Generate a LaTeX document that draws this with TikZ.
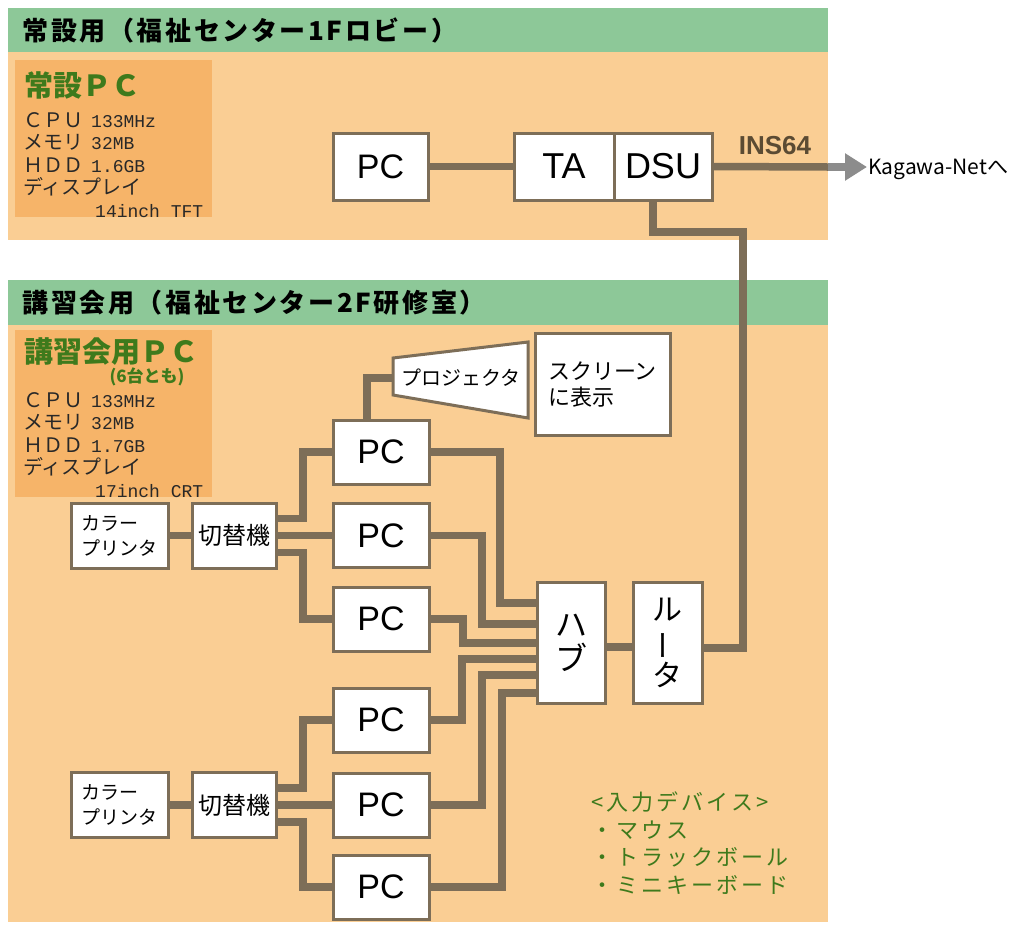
\documentclass[tikz,border=0pt]{standalone}
\usepackage{fontspec}
\setmainfont{Liberation Sans}
\newfontfamily\cjk{Noto Sans CJK JP}
\newfontfamily\lmono{Liberation Mono}
\usetikzlibrary{arrows.meta,calc}
\definecolor{hdr}{RGB}{141,200,152}
\definecolor{bgo}{RGB}{250,206,148}
\definecolor{spc}{RGB}{246,180,105}
\definecolor{wirec}{RGB}{125,110,88}
\definecolor{ttlg}{RGB}{62,122,28}
\definecolor{arrg}{RGB}{140,140,140}
\definecolor{txtd}{RGB}{40,40,40}
\definecolor{insc}{RGB}{91,75,51}
\newcommand{\lat}[1]{{\lmono\fontsize{18}{22.5}\selectfont #1}}
\newcommand{\gap}{\hspace{8pt}}
\begin{document}
\begin{tikzpicture}[x=1pt,y=-1pt,
  box/.style={draw=wirec,line width=3pt,fill=white,inner sep=0pt,outer sep=0pt,text=black},
  wire/.style={draw=wirec,line width=7.5pt},
  latf/.style={font=\fontsize{#1}{#1}\selectfont},
  jpf/.style={font=\cjk\fontsize{#1}{#1}\selectfont},
  hdrtext/.style={anchor=west,text=black,font=\cjk\bfseries\fontsize{26}{26}\selectfont\addfontfeatures{LetterSpace=10}},
  ttl/.style={anchor=west,text=ttlg,font=\cjk\bfseries\fontsize{29}{29}\selectfont},
  spec/.style={anchor=north west,text=txtd,align=left,inner sep=0pt,font=\cjk\fontsize{20}{22.5}\selectfont},
  pcbox/.style={box,minimum width=96,minimum height=64,latf=34},
]
\useasboundingbox (0,0) rectangle (1034,927);
\fill[white] (0,0) rectangle (1034,927);
% ---------------- top section
\fill[hdr] (8,8) rectangle (828,52);
\fill[bgo] (8,52) rectangle (828,240);
\fill[spc] (15,60) rectangle (212,217);
\node[hdrtext] (h1) at (19,30) {常設用（福祉センター1Fロビー）};
\node[ttl] (t1) at (21,85) {常設ＰＣ};
\node[spec] (s1) at (23,112) {ＣＰＵ\gap\lat{133MHz}\\メモリ\gap\lat{32MB}\\ＨＤＤ\gap\lat{1.6GB}\\ディスプレイ\\\hspace*{72pt}\lat{14inch TFT}};

\node[box,minimum width=95,minimum height=67,latf=34] (pc0) at (380.5,166.5) {PC};
\node[box,minimum width=100,minimum height=67,latf=36] (ta) at (564,166.5) {TA};
\node[box,minimum width=98,minimum height=67,latf=36] (dsu) at (663,166.5) {DSU};
\draw[wire] (pc0.east) -- (ta.west);

\node[text=insc,font=\bfseries\fontsize{26}{26}\selectfont] (ins) at (775,146) {INS64};
\node[anchor=west,inner sep=1pt,jpf=21] (kn) at (867,169) {Kagawa-Netへ};
\coordinate (edge) at (828,167);
\draw[wire] (dsu.east) -- (edge);
\draw[draw=arrg,line width=7.5pt,-{Triangle[length=22pt,width=26pt]}] (edge) -- (edge -| kn.west);

% ---------------- bottom section
\fill[hdr] (8,280) rectangle (828,325);
\fill[bgo] (8,325) rectangle (828,922);
\fill[spc] (15,330) rectangle (212,497);
\node[hdrtext] (h2) at (19,303) {講習会用（福祉センター2F研修室）};
\node[ttl] (t2) at (21,352) {講習会用ＰＣ};
\node[anchor=east,text=ttlg,font=\cjk\bfseries\fontsize{17}{17}\selectfont] (t2b) at (188,377) {(6台とも)};
\node[spec] (s2) at (23,392) {ＣＰＵ\gap\lat{133MHz}\\メモリ\gap\lat{32MB}\\ＨＤＤ\gap\lat{1.7GB}\\ディスプレイ\\\hspace*{72pt}\lat{17inch CRT}};

% projector and screen
\draw[draw=wirec,line width=3pt,fill=white,line join=miter] (393,358) -- (528,342) -- (528,418) -- (393,395) -- cycle;
\node[jpf=20] (proj) at (461,378) {プロジェクタ};
\coordinate (projL) at (393,378);
\node[box,minimum width=135,minimum height=102,align=left,font=\cjk\fontsize{22}{26}\selectfont] (scr) at (602.5,384) {スクリーン\\に表示};

% PCs
\node[pcbox] (pc1) at (381,452) {PC};
\node[pcbox] (pc2) at (381,535.5) {PC};
\node[pcbox] (pc3) at (381,619) {PC};
\node[pcbox] (pc4) at (381,720) {PC};
\node[pcbox] (pc5) at (381,805) {PC};
\node[pcbox] (pc6) at (381,887) {PC};

% hub and router
\node[box,minimum width=68,minimum height=121,align=center,font=\cjk\fontsize{32}{34}\selectfont] (hub) at (571,642.5) {ハ\\ブ};
\node[box,minimum width=69,minimum height=121,align=center,font=\cjk\fontsize{30}{32}\selectfont] (router) at (667.5,642.5) {ル\\\rotatebox[origin=c]{90}{ー}\\タ};

% printers and switchers
\node[box,minimum width=97,minimum height=65,align=left,font=\cjk\fontsize{19}{25}\selectfont] (pr1) at (119.5,535.5) {カラー\\プリンタ};
\node[box,minimum width=84,minimum height=65,jpf=24] (sw1) at (234,535.5) {切替機};
\node[box,minimum width=97,minimum height=65,align=left,font=\cjk\fontsize{19}{25}\selectfont] (pr2) at (119.5,805) {カラー\\プリンタ};
\node[box,minimum width=84,minimum height=65,jpf=24] (sw2) at (234,805) {切替機};

% input devices
\node[anchor=west,text=ttlg,font=\cjk\fontsize{22}{27.5}\selectfont\addfontfeatures{LetterSpace=14},align=left,inner sep=0pt] (inp) at (591,843) {<入力デバイス>\\・マウス\\・トラックボール\\・ミニキーボード};

% wires
\draw[wire] (projL) -| ([xshift=-14pt]pc1.north);
\draw[wire] (pr1.east) -- (sw1.west);
\draw[wire] (pr2.east) -- (sw2.west);
\draw[wire] ([yshift=17pt]sw1.east) -| (303,452) -- (pc1.west);
\draw[wire] (sw1.east) -- (pc2.west);
\draw[wire] ([yshift=-17pt]sw1.east) -| (303,619) -- (pc3.west);
\draw[wire] ([yshift=17pt]sw2.east) -| (303,720) -- (pc4.west);
\draw[wire] (sw2.east) -- (pc5.west);
\draw[wire] ([yshift=-17pt]sw2.east) -| (303,887) -- (pc6.west);

\draw[wire] (pc1.east) -| (500,603) -- ([yshift=39.5pt]hub.west);
\draw[wire] (pc2.east) -| (482,624) -- ([yshift=18.5pt]hub.west);
\draw[wire] (pc3.east) -| (463,643) -- ([yshift=-0.5pt]hub.west);
\draw[wire] (pc4.east) -| (462,659) -- ([yshift=-16.5pt]hub.west);
\draw[wire] (pc5.east) -| (482,675) -- ([yshift=-32.5pt]hub.west);
\draw[wire] (pc6.east) -| (502,693) -- ([yshift=-50.5pt]hub.west);
\draw[wire] ([yshift=-4.5pt]hub.east) -- ([yshift=-4.5pt]router.west);
\draw[wire] ([xshift=-10pt]dsu.south) |- (743,232) |- ([yshift=-5.5pt]router.east);
\end{tikzpicture}
\end{document}
